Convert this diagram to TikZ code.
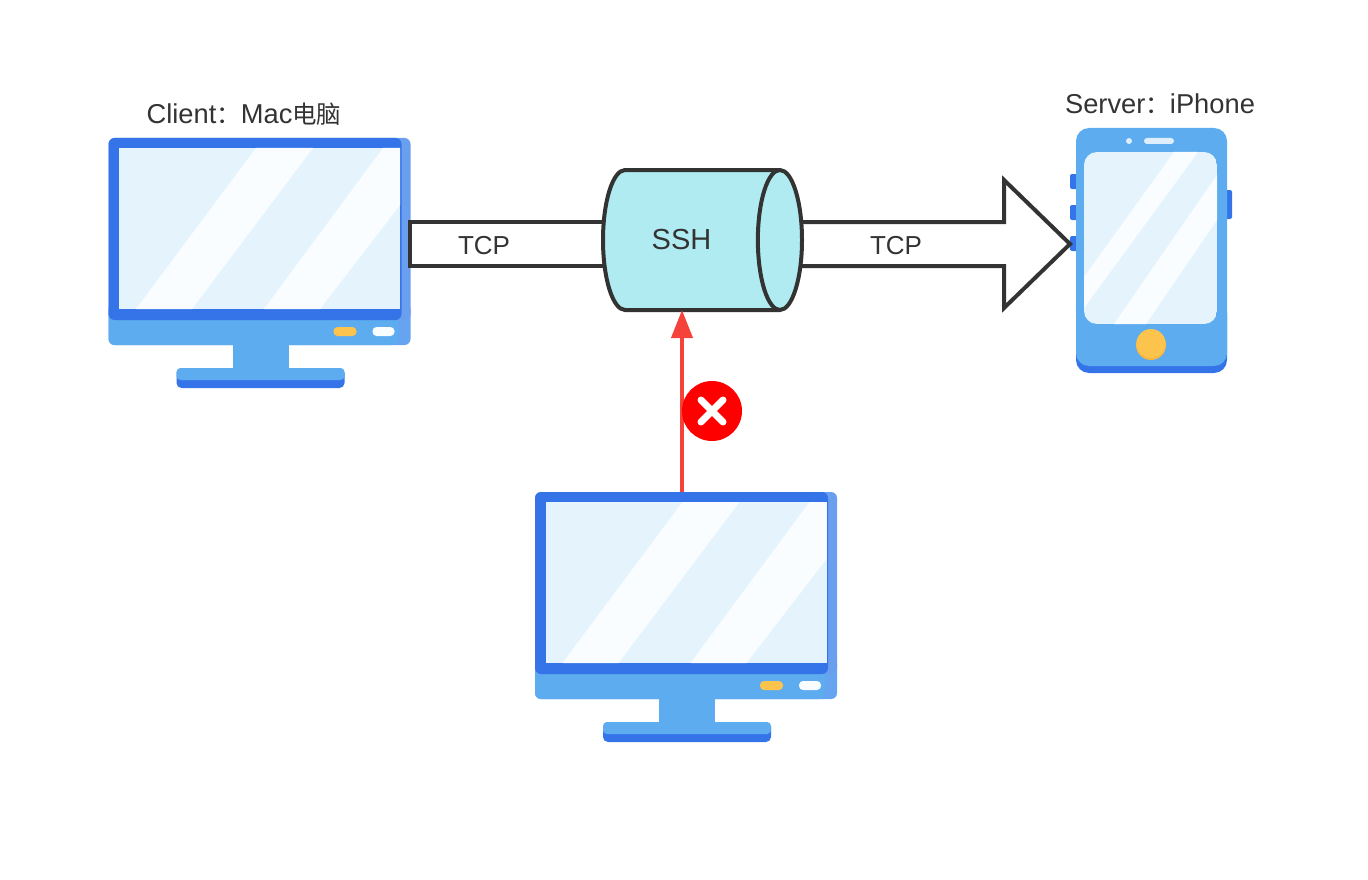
\documentclass[tikz,border=0pt]{standalone}
\usepackage{xcolor}
\usepackage{fontspec}
\setmainfont{Liberation Sans}
\newfontfamily\cjk{Noto Sans CJK SC}
\usetikzlibrary{arrows.meta,shapes.geometric}
\definecolor{framedark}{HTML}{3474E8}
\definecolor{framelight}{HTML}{6A9FF0}
\definecolor{bodyblue}{HTML}{5CACEF}
\definecolor{glass}{HTML}{E5F4FC}
\definecolor{shine}{HTML}{F9FDFF}
\definecolor{amber}{HTML}{FCC44D}
\definecolor{ink}{HTML}{333333}
\definecolor{pipefill}{HTML}{B0EBF2}
\definecolor{alert}{HTML}{F5433B}

\begin{document}
\begin{tikzpicture}[
      x=1pt, y=-1pt,
      pipe/.style={draw=ink, line width=4pt, miter limit=10},
      tag/.style={text=ink, inner sep=0pt, font=\fontsize{27.3}{30}\selectfont},
      linktag/.style={text=ink, inner sep=0pt, font=\fontsize{26}{30}\selectfont},
      monitor/.pic={
        \fill[framelight!70!bodyblue, rounded corners=6pt] (0,165) rectangle (302,207);
        \fill[bodyblue, rounded corners=6pt] (0,165) rectangle (290,207);
        \fill[framelight, rounded corners=6pt] (0,0) rectangle (302,182);
        \fill[framedark, rounded corners=6pt] (0,0) rectangle (293,182);
        \fill[glass] (10.5,10) rectangle (291.5,171);
        \fill[shine] (147.5,10) -- (204.5,10) -- (83.5,171) -- (27.5,171) -- cycle;
        \fill[shine] (274.5,10) -- (291.5,10) -- (291.5,67) -- (211.5,171) -- (155.5,171) -- cycle;
        \fill[amber, rounded corners=4pt] (225,189) rectangle (248,198);
        \fill[shine, rounded corners=4pt] (264,189) rectangle (286,198);
        \fill[bodyblue] (124,205) rectangle (180,232);
        \fill[framedark, rounded corners=5pt] (68,230) rectangle (236,250);
        \fill[bodyblue, rounded corners=4pt] (68,230) rectangle (236,242);
        \coordinate (-top) at (147,0);
      }
    ]
      \useasboundingbox (0,0) rectangle (1368,880);

      \pic (client) at (108.5,138) {monitor};
      \pic (stranger) at (535,492) {monitor};
      \node[tag] (clientname) at (244,114) {Client{\cjk\fontsize{24.5}{28}\selectfont ：}Mac{\cjk\fontsize{24.5}{28}\selectfont 电脑}};
      \node[tag] (servername) at (1160,104) {Server{\cjk\fontsize{24.5}{28}\selectfont ：}iPhone};

      % phone
      \fill[framedark, rounded corners=2pt] (1070,174) rectangle (1080,189);
      \fill[framedark, rounded corners=2pt] (1070,205) rectangle (1080,220);
      \fill[framedark, rounded corners=2pt] (1070,236) rectangle (1080,251);
      \fill[framedark, rounded corners=2pt] (1222,190) rectangle (1232,219);
      \fill[framedark, rounded corners=13pt] (1076,300) rectangle (1227,373);
      \fill[bodyblue, rounded corners=13pt] (1076,128) rectangle (1227,366);
      \begin{scope}
        \clip[rounded corners=13pt] (1084,152) rectangle (1217,324);
        \fill[glass] (1084,152) rectangle (1217,324);
        \fill[shine] (1174,152) -- (1198,152) -- (1084,308) -- (1084,277) -- cycle;
        \fill[shine] (1217,175) -- (1217,220) -- (1146,324) -- (1114,324) -- cycle;
      \end{scope}
      \fill[white!80!bodyblue] (1129,141) circle (3);
      \fill[white!80!bodyblue, rounded corners=3pt] (1144,138) rectangle (1174,144);
      \fill[amber!80!orange] (1151,345) circle (15);
      \fill[amber] (1151,343.5) circle (14.5);
      \coordinate (phonetip) at (1070,244);

      \coordinate (pipetop) at (410,222);
      \coordinate (pipebot) at (410,266);
      \node[pipe, fill=pipefill, shape=cylinder, shape border rotate=0, aspect=2.15,
            minimum height=199pt, minimum width=140pt, outer sep=0pt, inner sep=0pt,
            text=ink, anchor=shape center, font=\fontsize{29}{32}\selectfont] (ssh) at (702.5,240) {SSH\kern18pt};
      \draw[pipe] (ssh.west |- pipetop) -- (pipetop) -- (pipebot) -- (ssh.west |- pipebot);
      \draw[pipe] (ssh.east |- pipetop) -- (1004,222) -- (1004,180) -- (phonetip)
                  -- (1004,308) -- (1004,266) -- (ssh.east |- pipebot);
      \node[linktag] (lefttcp) at (484,246) {TCP};
      \node[linktag] (righttcp) at (896,246) {TCP};

      \draw[alert, line width=4pt, -{Triangle[length=28pt, width=21pt]}]
        (stranger-top) -- (stranger-top |- ssh.south);
      \node[circle, fill=red, minimum size=60pt, inner sep=0pt] (deny) at (712,411) {};
      \draw[white, line width=7pt, line cap=round] ([shift={(-11pt,-11pt)}]deny.center) -- ([shift={(11pt,11pt)}]deny.center);
      \draw[white, line width=7pt, line cap=round] ([shift={(-11pt,11pt)}]deny.center) -- ([shift={(11pt,-11pt)}]deny.center);
    \end{tikzpicture}
\end{document}
